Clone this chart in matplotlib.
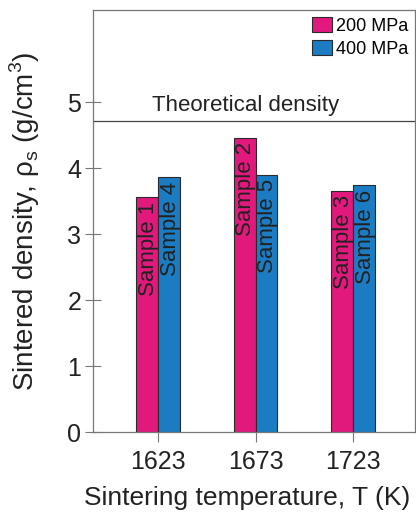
import matplotlib
matplotlib.use('Agg')
import matplotlib.pyplot as plt
import numpy as np

plt.rcParams['font.family'] = ['Liberation Sans', 'DejaVu Sans']
plt.rcParams['mathtext.fontset'] = 'custom'
plt.rcParams['mathtext.rm'] = 'Liberation Sans'

# Data
temperatures = ['1623', '1673', '1723']
density_200 = [3.56, 4.46, 3.66]
density_400 = [3.86, 3.90, 3.74]
labels_200 = ['Sample 1', 'Sample 2', 'Sample 3']
labels_400 = ['Sample 4', 'Sample 5', 'Sample 6']
theoretical = 4.71
series_names = ['200 MPa', '400 MPa']


def main():
    fig = plt.figure(figsize=(4.16, 5.18), dpi=100)
    ax = fig.add_axes([93 / 416, 86 / 518, 322 / 416, 422 / 518])

    x = np.arange(len(temperatures))
    width = 0.225
    pink = '#e2197c'
    blue = '#1b7cc3'

    b1 = ax.bar(x - width / 2, density_200, width, color=pink,
                edgecolor='#2a2a2a', linewidth=0.8, label=series_names[0])
    b2 = ax.bar(x + width / 2, density_400, width, color=blue,
                edgecolor='#2a2a2a', linewidth=0.8, label=series_names[1])

    # Sample names written down the bars
    for bars, names in ((b1, labels_200), (b2, labels_400)):
        for bar, name in zip(bars, names):
            ax.annotate(name, (bar.get_x() + bar.get_width() / 2, bar.get_height()),
                        xytext=(1, -3), textcoords='offset points',
                        rotation=90, rotation_mode='anchor',
                        ha='right', va='center', fontsize=16, color='#222222')

    # Theoretical density line
    ax.axhline(theoretical, color='#444444', linewidth=0.9)
    ax.annotate('Theoretical density', (0.475, theoretical),
                xycoords=('axes fraction', 'data'),
                xytext=(0, 4), textcoords='offset points',
                ha='center', va='bottom', fontsize=16, color='#222222')

    ax.set_xlim(-0.667, 2.636)
    ax.set_ylim(0, 6.4)
    ax.set_xticks(x, temperatures)
    ax.set_yticks([0, 1, 2, 3, 4, 5])

    for s in ax.spines.values():
        s.set_color('#777777')
        s.set_linewidth(0.9)

    ax.tick_params(axis='y', direction='inout', length=11, width=0.8,
                   color='#777777', labelsize=18, pad=3, labelcolor='#222222')
    ax.tick_params(axis='x', direction='out', length=7, width=0.8,
                   color='#777777', labelsize=18, pad=6, labelcolor='#222222')

    ax.set_xlabel('Sintering temperature, T (K)', fontsize=19, color='#222222')
    ax.xaxis.set_label_coords(0.48, -0.128)
    ax.set_ylabel('Sintered density, ρ$_\\mathrm{s}$ (g/cm$^3$)', fontsize=20,
                  color='#222222', labelpad=18)

    ax.legend(loc='upper right', frameon=False, fontsize=13,
              handlelength=1.1, handleheight=0.9, handletextpad=0.2,
              labelspacing=0.3, borderaxespad=0.1, borderpad=0.3)

    fig.savefig('out.png', dpi=100)


if __name__ == '__main__':
    main()
